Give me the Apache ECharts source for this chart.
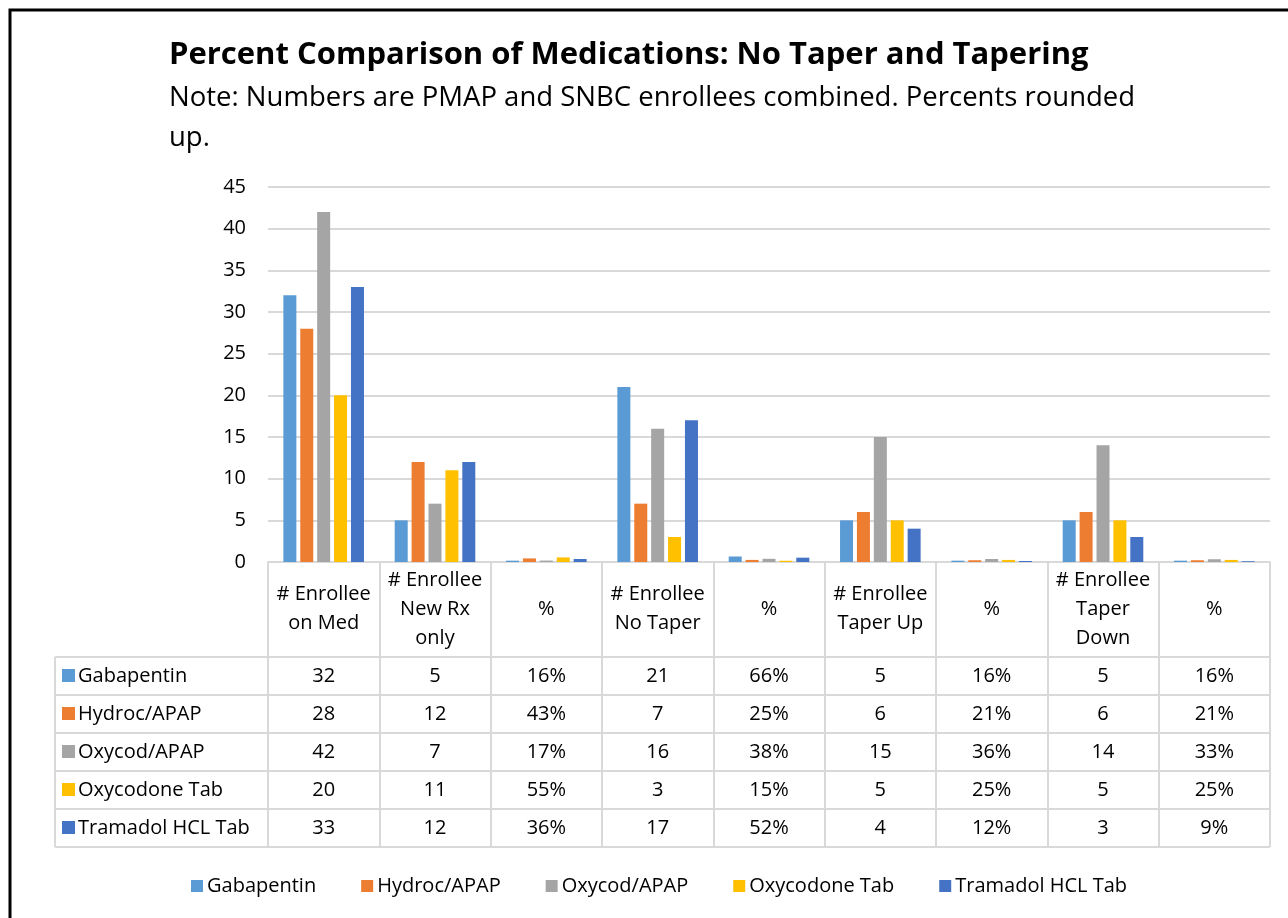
<!DOCTYPE html>
<html>
<head>
<meta charset="utf-8">
<script src="https://cdn.jsdelivr.net/npm/echarts@6/dist/echarts.min.js"></script>
<style>
  html, body { margin: 0; padding: 0; background: #fff; }
  #main { width: 1288px; height: 918px; }
</style>
</head>
<body>
<div id="main"></div>
<script>
// categories (column headers of the data table)
var categories = ['# Enrollee\non Med', '# Enrollee\nNew Rx\nonly', '%', '# Enrollee\nNo Taper', '%',
                  '# Enrollee\nTaper Up', '%', '# Enrollee\nTaper\nDown', '%'];
var pctCols = [2, 4, 6, 8]; // columns holding fractions, shown as percent

var seriesNames = ['Gabapentin', 'Hydroc/APAP', 'Oxycod/APAP', 'Oxycodone Tab', 'Tramadol HCL Tab'];
var gabapentin = [32, 5, 0.16, 21, 0.66, 5, 0.16, 5, 0.16];
var hydroc     = [28, 12, 0.43, 7, 0.25, 6, 0.21, 6, 0.21];
var oxycod     = [42, 7, 0.17, 16, 0.38, 15, 0.36, 14, 0.33];
var oxycodone  = [20, 11, 0.55, 3, 0.15, 5, 0.25, 5, 0.25];
var tramadol   = [33, 12, 0.36, 17, 0.52, 4, 0.12, 3, 0.09];
var seriesData = [gabapentin, hydroc, oxycod, oxycodone, tramadol];
var colors = ['#5B9BD5', '#ED7D31', '#A5A5A5', '#FFC000', '#4472C4'];

var yTicks = { min: 0, max: 45, interval: 5 };

var FONT = '"Open Sans", "Noto Sans", sans-serif';

// layout
var gridL = 268, gridR = 1270, gridT = 187, gridB = 562;
var headH = 95, rowH = 38, tableL = 55;
var lineCol = '#d9d9d9';

var chart = echarts.init(document.getElementById('main'));

function fmt(v, col) {
    if (pctCols.indexOf(col) >= 0) return Math.round(v * 100) + '%';
    return String(v);
}

function buildGraphic() {
    var g = [];
    // outer frame
    g.push({ type: 'rect', shape: { x: 10, y: 10, width: 1300, height: 930 },
             style: { fill: 'none', stroke: '#000', lineWidth: 3 }, z: 10 });
    var colW = (gridR - gridL) / categories.length;
    var rowsTop = gridB + headH;
    var n = seriesNames.length;
    // horizontal row lines
    for (var r = 0; r <= n; r++) {
        var y = rowsTop + r * rowH;
        g.push({ type: 'line', shape: { x1: tableL, y1: y, x2: gridR, y2: y },
                 style: { stroke: lineCol, lineWidth: 2 } });
    }
    // left border of label column
    g.push({ type: 'line', shape: { x1: tableL, y1: rowsTop, x2: tableL, y2: rowsTop + n * rowH },
             style: { stroke: lineCol, lineWidth: 2 } });
    // row labels and values
    for (var i = 0; i < n; i++) {
        var cy = rowsTop + i * rowH + rowH / 2;
        g.push({ type: 'rect', shape: { x: tableL + 7, y: cy - 7, width: 13, height: 13 },
                 style: { fill: colors[i] } });
        g.push({ type: 'text', x: tableL + 23, y: cy,
                 style: { text: seriesNames[i], fill: '#000', font: '20px ' + FONT, verticalAlign: 'middle' } });
        for (var c = 0; c < categories.length; c++) {
            g.push({ type: 'text', x: gridL + colW * (c + 0.5), y: cy,
                     style: { text: fmt(seriesData[i][c], c), fill: '#000', font: '20px ' + FONT,
                              align: 'center', verticalAlign: 'middle' } });
        }
    }
    return g;
}

var series = seriesNames.map(function (name, i) {
    return {
        name: name,
        type: 'bar',
        data: seriesData[i],
        barWidth: 13,
        barGap: '30%',
        itemStyle: { color: colors[i] }
    };
});

var option = {
    backgroundColor: '#fff',
    animation: false,
    textStyle: { fontFamily: FONT },
    title: {
        text: 'Percent Comparison of Medications: No Taper and Tapering',
        subtext: 'Note: Numbers are PMAP and SNBC enrollees combined. Percents rounded\nup.',
        left: 164,
        top: 35,
        itemGap: 7,
        textStyle: { fontSize: 31, fontWeight: 'bold', color: '#000', fontFamily: FONT },
        subtextStyle: { fontSize: 27.5, color: '#000', lineHeight: 40, fontFamily: FONT }
    },
    legend: {
        data: seriesNames,
        left: 186,
        top: 871,
        icon: 'rect',
        itemWidth: 12,
        itemHeight: 12,
        itemGap: 45,
        textStyle: { fontSize: 20, color: '#000', padding: [0, 0, 0, -1] }
    },
    grid: { left: gridL, right: 1288 - gridR, top: gridT, bottom: 918 - gridB, containLabel: false },
    xAxis: {
        type: 'category',
        data: categories,
        axisLine: { show: true, lineStyle: { color: lineCol, width: 2 } },
        axisTick: { show: true, length: headH + rowH * 5, lineStyle: { color: lineCol, width: 2 } },
        axisLabel: {
            interval: 0,
            margin: 47,
            verticalAlign: 'middle',
            fontSize: 20,
            lineHeight: 29,
            color: '#000'
        }
    },
    yAxis: {
        type: 'value',
        min: yTicks.min,
        max: yTicks.max,
        interval: yTicks.interval,
        axisLine: { show: false },
        axisTick: { show: false },
        axisLabel: { fontSize: 20, color: '#000', margin: 22 },
        splitLine: { lineStyle: { color: lineCol, width: 2 } }
    },
    series: series,
    graphic: buildGraphic()
};

chart.setOption(option);
</script>
</body>
</html>
